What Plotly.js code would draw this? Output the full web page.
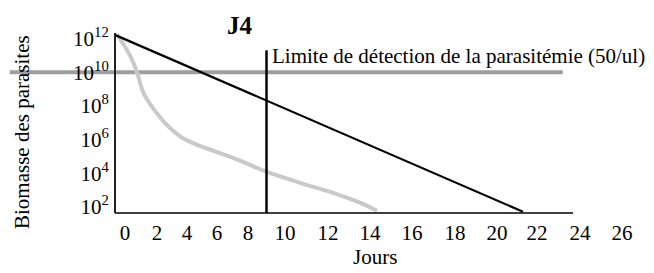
<!DOCTYPE html>
<html>
<head>
<meta charset="utf-8">
<script src="https://cdn.plot.ly/plotly-3.0.1.min.js"></script>
<style>html,body{margin:0;padding:0;background:#fff;}#chart{width:654px;height:273px;}</style>
</head>
<body>
<div id="chart"></div>
<script>
// ---- data (days, biomass in parasites) ----
const tickDays = [0, 2, 4, 6, 8, 10, 12, 14, 16, 18, 20, 22, 24, 26];
const tickLabels = ["0", "2", "4", "6", "8", "10", "12", "14", "16", "18", "20", "22", "24", "26"];
const yTickVals = [1e2, 1e4, 1e6, 1e8, 1e10, 1e12];
const yTickLabels = ["10<sup>2</sup>", "10<sup>4</sup>", "10<sup>6</sup>", "10<sup>8</sup>", "10<sup>10</sup>", "10<sup>12</sup>"];

const blackDays = [-0.6, 21.3];
const blackBiomass = [1.6e12, 52];

const grayDays = [-0.5, 0.31, 0.75, 1.13, 1.75, 2.67, 3.73, 4.87, 7.03, 9.03, 10.7, 12.24, 13.52, 14.33];
const grayBiomass = [1.8e12, 1e11, 1e10, 6.6e8, 7.4e7, 7.2e6, 1.2e6, 4.2e5, 8.1e4, 1.2e4, 2.7e3, 690, 180, 60];

const limitValue = 1e10;
const limitDays = [-7.2, 23.2];
const j4Day = 9;
const j4Biomass = [2e11, 25];

// ---- layout: the reference axis labels are not evenly spaced; map days onto label positions ----
const tickPx = [125, 157, 187, 217, 248, 285, 328, 370, 412, 455, 497, 537, 580, 622];
function warp(d) {
  const n = tickDays.length;
  let i = 0;
  while (i < n - 2 && d > tickDays[i + 1]) i++;
  return tickPx[i] + (d - tickDays[i]) * (tickPx[i + 1] - tickPx[i]) / (tickDays[i + 1] - tickDays[i]);
}

const FONT = "Liberation Serif, Times New Roman, serif";
const FS = 21;

const traces = [
  {x: limitDays.map(warp), y: [limitValue, limitValue], mode: "lines",
   line: {color: "#9e9e9e", width: 4}, hoverinfo: "skip", showlegend: false},
  {x: grayDays.map(warp), y: grayBiomass, mode: "lines",
   line: {color: "#c9c9c9", width: 4, shape: "spline", smoothing: 0.8}, hoverinfo: "skip", showlegend: false},
  {x: blackDays.map(warp), y: blackBiomass, mode: "lines",
   line: {color: "#000000", width: 2.2}, hoverinfo: "skip", showlegend: false},
  {x: [warp(j4Day), warp(j4Day)], y: j4Biomass, mode: "lines",
   line: {color: "#000000", width: 2.5}, hoverinfo: "skip", showlegend: false}
];

const layout = {
  width: 654, height: 273,
  margin: {l: 0, r: 0, t: 33, b: 60},
  paper_bgcolor: "#ffffff", plot_bgcolor: "#ffffff",
  font: {family: FONT, size: FS, color: "#000"},
  showlegend: false,
  xaxis: {
    range: [0, 654], domain: [0, 1],
    tickmode: "array", tickvals: tickDays.map(warp), ticktext: tickLabels,
    showgrid: false, zeroline: false, showline: false, ticks: "",
    tickfont: {family: FONT, size: FS, color: "#000"},
    ticklabelstandoff: 5, fixedrange: true
  },
  yaxis: {
    type: "log", range: [1.64, 12.33],
    anchor: "free", position: 115 / 654,
    tickmode: "array", tickvals: yTickVals, ticktext: yTickLabels,
    showgrid: false, zeroline: false, showline: true, linewidth: 2, linecolor: "#222",
    ticks: "", tickfont: {family: FONT, size: FS, color: "#000"},
    ticklabelstandoff: 1, fixedrange: true
  },
  shapes: [
    {type: "line", xref: "x", yref: "paper", x0: 115, x1: 573, y0: 0, y1: 0,
     line: {color: "#000", width: 1.5}}
  ],
  annotations: [
    {text: "Biomasse des parasites", xref: "x", yref: "paper", x: 22, y: 0.45,
     textangle: -90, showarrow: false, font: {family: FONT, size: FS, color: "#000"},
     xanchor: "center", yanchor: "middle"},
    {text: "Jours", xref: "x", yref: "paper", x: 375, y: -0.245, showarrow: false,
     font: {family: FONT, size: FS, color: "#000"}, xanchor: "center", yanchor: "middle"},
    {text: "<b>J4</b>", xref: "x", yref: "paper", x: 240, y: 1.04, showarrow: false,
     font: {family: FONT, size: 25, color: "#000"}, xanchor: "center", yanchor: "middle"},
    {text: "Limite de détection de la parasitémie (50/ul)", xref: "x", yref: "paper", x: 270, y: 0.875,
     showarrow: false, font: {family: FONT, size: FS, color: "#000"}, xanchor: "left", yanchor: "middle"}
  ]
};

Plotly.newPlot("chart", traces, layout, {staticPlot: true, displayModeBar: false});
</script>
</body>
</html>
